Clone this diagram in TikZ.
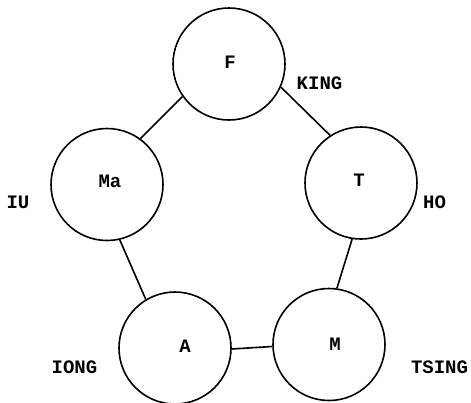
\documentclass[tikz,border=0pt]{standalone}
\usepackage{fontspec}
\setmonofont{Liberation Mono}
\begin{document}
\begin{tikzpicture}[x=1pt,y=-1pt,
  ring/.style={circle,draw,line width=1.6pt,minimum size=112pt,inner sep=0pt},
  lbl/.style={font=\ttfamily\bfseries\fontsize{19}{19}\selectfont,inner sep=0pt},
  link/.style={line width=1.6pt}]
\useasboundingbox (0,0) rectangle (471,402);
\node[ring] (F) at (229,64) {};
\node[ring] (Ma) at (107,184.5) {};
\node[ring] (T) at (361,183) {};
\node[ring] (A) at (175,348) {};
\node[ring] (M) at (329,344.5) {};
\node[lbl] (tF) at (230,62) {F};
\node[lbl] (tMa) at (110,181) {Ma};
\node[lbl] (tT) at (359,180) {T};
\node[lbl] (tA) at (185,346) {A};
\node[lbl] (tM) at (335,344) {M};
\node[lbl] (king) at (319.5,83) {KING};
\node[lbl] (iu) at (18,202) {IU};
\node[lbl] (ho) at (434.5,202) {HO};
\node[lbl] (iong) at (74.5,367) {IONG};
\node[lbl] (tsing) at (439.5,367) {TSING};
\draw[link] (F.215) -- (Ma.54);
\draw[link] (F.336) -- (T.123);
\draw[link] (T.261) -- (M.82);
\draw[link] (Ma.283) -- (A.121);
\draw[link] (A.359) -- (M.182);
\end{tikzpicture}
\end{document}
